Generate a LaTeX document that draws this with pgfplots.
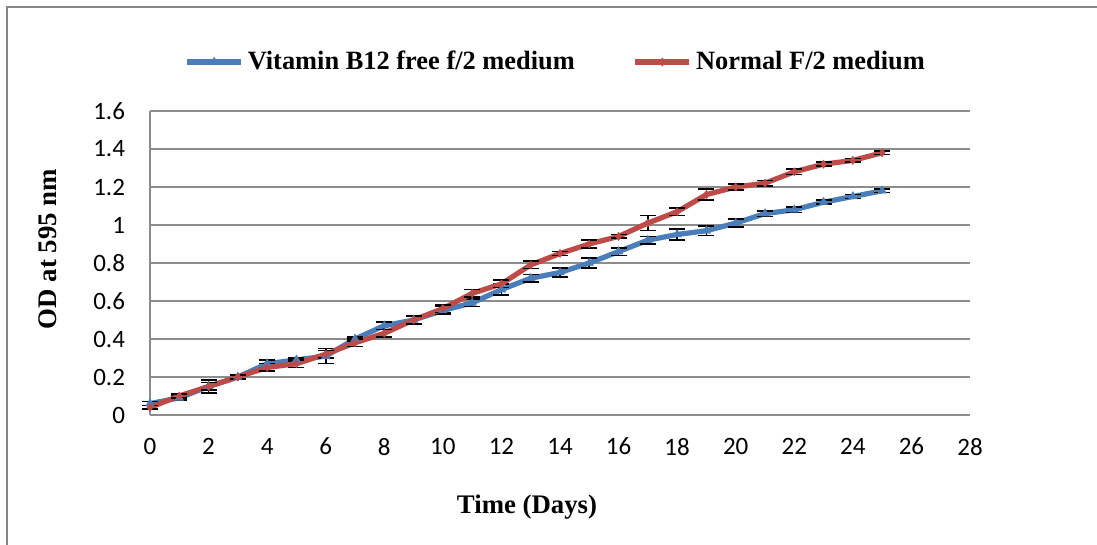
\documentclass[border=0pt]{standalone}
\usepackage{fontspec}
\setmainfont{Liberation Serif}
\newfontfamily\tickfont{Carlito}
\usepackage{pgfplots}
\pgfplotsset{compat=1.18}
\usepackage{pgfplotstable}

\definecolor{bluel}{HTML}{4A7EBB}
\definecolor{redl}{HTML}{BE4B48}
\definecolor{gridc}{HTML}{8C8C8C}
\definecolor{framec}{HTML}{868686}

% day, OD, error
\pgfplotstableread{
x y e
0 0.06 0.010
1 0.09 0.010
2 0.15 0.035
3 0.20 0.010
4 0.27 0.020
5 0.29 0.010
6 0.31 0.040
7 0.40 0.010
8 0.47 0.020
9 0.50 0.020
10 0.55 0.020
11 0.59 0.020
12 0.66 0.030
13 0.72 0.020
14 0.75 0.025
15 0.80 0.025
16 0.86 0.020
17 0.92 0.020
18 0.95 0.030
19 0.97 0.025
20 1.01 0.020
21 1.06 0.015
22 1.08 0.015
23 1.12 0.010
24 1.15 0.010
25 1.18 0.010
}\freemed

\pgfplotstableread{
x y e
0 0.04 0.010
1 0.10 0.010
2 0.15 0.020
3 0.20 0.010
4 0.25 0.020
5 0.27 0.020
6 0.32 0.020
7 0.38 0.020
8 0.43 0.020
9 0.50 0.020
10 0.56 0.020
11 0.64 0.020
12 0.69 0.020
13 0.79 0.020
14 0.85 0.010
15 0.90 0.020
16 0.94 0.010
17 1.01 0.040
18 1.07 0.020
19 1.16 0.030
20 1.20 0.015
21 1.22 0.015
22 1.28 0.015
23 1.32 0.010
24 1.34 0.010
25 1.38 0.010
}\normalmed

\begin{document}
\begin{tikzpicture}
\useasboundingbox (0pt,0pt) rectangle (548.5pt,272.5pt);
\begin{scope}
\clip (0pt,0pt) rectangle (548.5pt,272.5pt);
\draw[framec, line width=0.8pt] (3.5pt,-10pt) -- (3.5pt,269pt) -- (560pt,269pt);
\end{scope}

\begin{axis}[
  at={(75pt,65pt)}, anchor=origin,
  scale only axis,
  width=410pt, height=152pt,
  xmin=0, xmax=28, ymin=0, ymax=1.6,
  xtick={0,2,...,28},
  ytick={0,0.2,...,1.6},
  yticklabels={0,0.2,0.4,0.6,0.8,1,1.2,1.4,1.6},
  xticklabel style={font=\tickfont\fontsize{12.5}{12.5}\selectfont},
  yticklabel style={font=\tickfont\fontsize{12.5}{12.5}\selectfont},
  /pgf/number format/assume math mode=true,
  xtick pos=bottom, ytick pos=left,
  tick style={draw=none},
  major tick length=0pt,
  xticklabel shift=8pt,
  yticklabel shift=9pt,
  axis x line*=bottom, axis y line*=left,
  axis line style={gridc, line width=0.8pt, -},
  ymajorgrids,
  grid style={gridc, line width=0.8pt},
  clip=false,
  legend columns=2,
  legend style={at={(0.496,1.161)}, anchor=center, draw=none, fill=none,
    font=\bfseries\fontsize{13.2}{14}\selectfont,
    /tikz/every even column/.append style={column sep=27pt},
    inner sep=0pt},
  legend image code/.code={
    \draw[#1, line width=2.6pt] (0pt,0pt) -- (27pt,0pt);
    \draw[#1, mark repeat=1, mark phase=1] plot coordinates {(13.5pt,0pt)};
  },
  legend cell align=left,
]
\addplot[bluel, line width=2.6pt, mark=triangle*, mark size=2.4pt,
  mark options={solid, line width=0.3pt},
  error bars/.cd, y dir=both, y explicit,
  error bar style={black, line width=0.8pt},
  error mark options={black, mark size=4pt, line width=0.8pt, rotate=90}]
  table[x=x, y=y, y error=e] {\freemed};
\addlegendentry{Vitamin B12 free f/2 medium}

\addplot[redl, line width=2.6pt, mark=diamond*, mark size=2pt,
  mark options={solid, line width=0.3pt},
  error bars/.cd, y dir=both, y explicit,
  error bar style={black, line width=0.8pt},
  error mark options={black, mark size=4pt, line width=0.8pt, rotate=90}]
  table[x=x, y=y, y error=e] {\normalmed};
\addlegendentry{Normal F/2 medium}
\end{axis}

\node[font=\bfseries\fontsize{13.4}{14}\selectfont, rotate=90] at (24pt,148pt) {OD at 595 nm};
\node[font=\bfseries\fontsize{13.4}{14}\selectfont] at (263.5pt,19pt) {Time (Days)};
\end{tikzpicture}
\end{document}
